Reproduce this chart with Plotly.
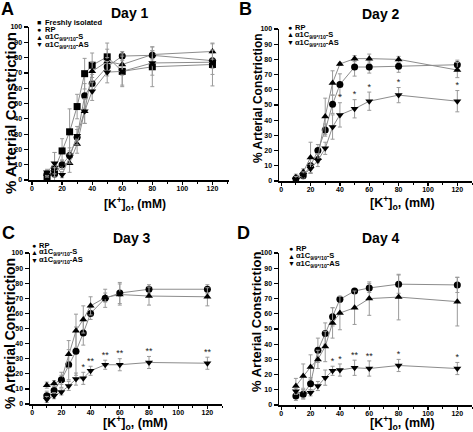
import plotly.graph_objects as go

# ---------------- data ----------------
K = [10, 15, 20, 25, 30, 35, 40, 50, 60, 80, 120]
x_ticks = [0, 20, 40, 60, 80, 100, 120]
y_ticks = [0, 10, 20, 30, 40, 50, 60, 70, 80, 90, 100]

# Day 1
d1_fresh = [2, 7, 19, 31.5, 48, 69.5, 75, 80.5, 71, 74, 75.5]
d1_fresh_err = [3, 11, 8, 15, 8, 10, 8, 9, 9, 13, 14]
d1_rp = [4, 4, 10, 16, 28, 55, 63, 74, 81, 81.5, 78]
d1_rp_err = [2, 2, 3, 5, 5, 8, 6, 6, 3, 3, 5]
d1_s = [4, 5, 10, 11, 23.5, 45, 71, 77.5, 75.5, 82, 84]
d1_s_err = [2, 3, 3, 6, 6, 8, 6, 8, 7, 5, 5]
d1_as = [5, 11, 3.5, 15, 29, 45, 58, 70.5, 71, 76.5, 77]
d1_as_err = [2, 7, 2, 4, 6, 8, 6, 7, 10, 8, 8]

# Day 2
d2_rp = [1.5, 3.5, 10, 20, 33.5, 50.5, 63.5, 75, 75, 75.5, 76.5]
d2_rp_err = [2, 2, 5, 4, 4, 6, 7, 6, 4, 4, 3]
d2_s = [2.5, 6, 15.5, 15, 42.5, 64.5, 77, 80.5, 80.5, 80, 73]
d2_s_err = [2, 2, 10, 3, 12, 8, 1, 2, 3, 2, 5]
d2_as = [1, 4, 8, 13.5, 21.5, 35.5, 43.5, 47.5, 52.5, 56.5, 52.5]
d2_as_err = [2, 2, 3, 4, 4, 8, 8, 6, 6, 5, 7]
d2_stars = ["", "", "", "", "", "", "*", "*", "*", "*", "*"]

# Day 3
d3_rp = [5.5, 9, 16, 26, 35, 47, 60, 70, 73.5, 76, 76]
d3_rp_err = [3, 4, 5, 10, 16, 8, 4, 6, 7, 3, 3]
d3_s = [12.5, 13.5, 16, 33, 48.5, 56, 65, 70.5, 72.5, 71.5, 71]
d3_s_err = [2, 2, 3, 9, 11, 9, 6, 3, 7, 6, 6]
d3_as = [3, 5.5, 8, 12, 16.5, 17, 22, 26, 26, 27.5, 27]
d3_as_err = [2, 2, 2, 3, 4, 4, 3, 3, 4, 4, 4]
d3_stars = ["", "", "", "", "", "*", "**", "**", "**", "**", "**"]

# Day 4
d4_rp = [6, 7, 14, 36, 47, 58, 69.5, 75, 77, 79.5, 79]
d4_rp_err = [3, 3, 4, 8, 7, 6, 2, 1, 3, 6, 5]
d4_s = [12.5, 19, 25, 30, 38.5, 54, 60.5, 64, 70, 71, 68]
d4_s_err = [5, 8, 8, 6, 10, 10, 11, 11, 11, 15, 16]
d4_as = [9, 7, 8, 12.5, 18, 22.5, 23, 24.5, 24, 26, 24]
d4_as_err = [2, 3, 2, 3, 5, 3, 4, 5, 5, 4, 4]
d4_stars = ["", "", "", "", "", "*", "*", "**", "**", "*", "*"]

S_NAME = "α1C<sub>9/9*/10</sub>-S"
AS_NAME = "α1C<sub>9/9*/10</sub>-AS"

# ---------------- layout helpers ----------------
W, H = 473, 432
FONT = "Liberation Sans, Arial, sans-serif"


def fx(p):
    return p / W


def fy(p):
    return 1 - p / H


fig = go.Figure()


def add_series(ax, y, err, symbol):
    fig.add_trace(go.Scatter(
        x=K, y=y, mode="lines+markers",
        xaxis="x" + ax, yaxis="y" + ax,
        line=dict(color="#8c8c8c", width=1),
        marker=dict(symbol=symbol, size=7, color="black"),
        error_y=dict(type="data", array=err, color="#9a9a9a",
                     thickness=1, width=2),
        cliponaxis=False, showlegend=False, hoverinfo="skip"))


def add_stars(ax, y, err, stars):
    fig.add_trace(go.Scatter(
        x=K, y=[a + e for a, e in zip(y, err)], mode="text",
        text=stars, textposition="top center",
        textfont=dict(family=FONT, size=9, color="#222"),
        xaxis="x" + ax, yaxis="y" + ax,
        cliponaxis=False, showlegend=False, hoverinfo="skip"))


# panel A
add_series("", d1_fresh, d1_fresh_err, "square")
add_series("", d1_rp, d1_rp_err, "circle")
add_series("", d1_s, d1_s_err, "triangle-up")
add_series("", d1_as, d1_as_err, "triangle-down")
# panel B
add_series("2", d2_rp, d2_rp_err, "circle")
add_series("2", d2_s, d2_s_err, "triangle-up")
add_series("2", d2_as, d2_as_err, "triangle-down")
add_stars("2", d2_as, d2_as_err, d2_stars)
# panel C
add_series("3", d3_rp, d3_rp_err, "circle")
add_series("3", d3_s, d3_s_err, "triangle-up")
add_series("3", d3_as, d3_as_err, "triangle-down")
add_stars("3", d3_as, d3_as_err, d3_stars)
# panel D
add_series("4", d4_rp, d4_rp_err, "circle")
add_series("4", d4_s, d4_s_err, "triangle-up")
add_series("4", d4_as, d4_as_err, "triangle-down")
add_stars("4", d4_as, d4_as_err, d4_stars)

panels = {
    "": dict(xd=(29, 229), yd=(27, 180), xr=(-2, 131)),
    "2": dict(xd=(279, 472), yd=(29, 181), xr=(-1.5, 130)),
    "3": dict(xd=(30, 222), yd=(253, 404), xr=(-1.5, 130)),
    "4": dict(xd=(279, 472), yd=(253, 405), xr=(-1.5, 130)),
}

layout = dict(
    width=W, height=H,
    margin=dict(l=0, r=0, t=0, b=0),
    paper_bgcolor="white", plot_bgcolor="white",
    font=dict(family=FONT, color="black"),
    showlegend=False, hovermode=False,
)

tickfont = dict(family=FONT, size=7, color="black", weight="bold")
for ax, p in panels.items():
    layout["xaxis" + ax] = dict(
        domain=[fx(p["xd"][0]), fx(p["xd"][1])], range=list(p["xr"]),
        anchor="y" + ax, tickvals=x_ticks, ticks="outside", ticklen=3,
        tickwidth=1.2, tickcolor="black", showline=True, linecolor="black",
        linewidth=1.5, showgrid=False, zeroline=False, tickfont=tickfont,
        automargin=False, ticklabelstandoff=-2,
        minor=dict(tickvals=[10, 30, 50, 70, 90, 110, 130], ticks="outside",
                   ticklen=2, tickwidth=1, tickcolor="black"),
    )
    layout["yaxis" + ax] = dict(
        domain=[fy(p["yd"][1]), fy(p["yd"][0])], range=[0, 100],
        anchor="x" + ax, tickvals=y_ticks, ticks="outside", ticklen=4,
        tickwidth=1.2, tickcolor="black", showline=True, linecolor="black",
        linewidth=1.5, showgrid=False, zeroline=False, tickfont=tickfont,
        automargin=False,
    )

ann = []


def txt(x, y, t, size, anchor="center", bold=True, angle=0):
    ann.append(dict(
        x=fx(x), y=fy(y), xref="paper", yref="paper", text=t,
        showarrow=False, xanchor=anchor, yanchor="middle", textangle=angle,
        borderpad=0,
        font=dict(family=FONT, size=size, color="black",
                  weight="bold" if bold else "normal")))


# panel letters
txt(7, 9, "A", 18)
txt(245, 9, "B", 18)
txt(8, 233, "C", 18)
txt(244, 233, "D", 18)
# titles
txt(130, 13, "Day 1", 14)
txt(381, 14, "Day 2", 14)
txt(132, 238, "Day 3", 14)
txt(381, 238, "Day 4", 14)
# x titles
xt = "[K<sup>+</sup>]<sub>o</sub>, (mM)"
txt(135, 204, xt, 12)
txt(402, 203, xt, 12.5)
txt(135, 423, xt, 12.5)
txt(402, 423, xt, 12.5)
# y titles
yt = "% Arterial Constriction"
txt(10, 113, yt, 15, angle=-90)
txt(258, 98, yt, 12, angle=-90)
txt(10, 334, yt, 14, angle=-90)
txt(256, 322, yt, 13, angle=-90)


def legend(x_m, x_t, ys, items):
    for y, (sym, label) in zip(ys, items):
        txt(x_m, y, sym, 7, anchor="center", bold=False)
        txt(x_t, y, label, 7.5, anchor="left")


legend(39, 44, [22, 29.5, 37, 44.5],
       [("■", "Freshly isolated"), ("●", "RP"), ("▲", S_NAME), ("▼", AS_NAME)])
legend(290, 294, [27, 35, 43], [("●", "RP"), ("▲", S_NAME), ("▼", AS_NAME)])
legend(34, 38, [245, 252.5, 260], [("●", "RP"), ("▲", S_NAME), ("▼", AS_NAME)])
legend(291, 295, [248, 256, 263.5], [("●", "RP"), ("▲", S_NAME), ("▼", AS_NAME)])

layout["annotations"] = ann
fig.update_layout(**layout)
fig.write_html(
    "out.html",
    config=dict(displayModeBar=False, staticPlot=True),
    post_script="document.body.style.margin='0';"
                "document.body.style.overflow='hidden';",
)
